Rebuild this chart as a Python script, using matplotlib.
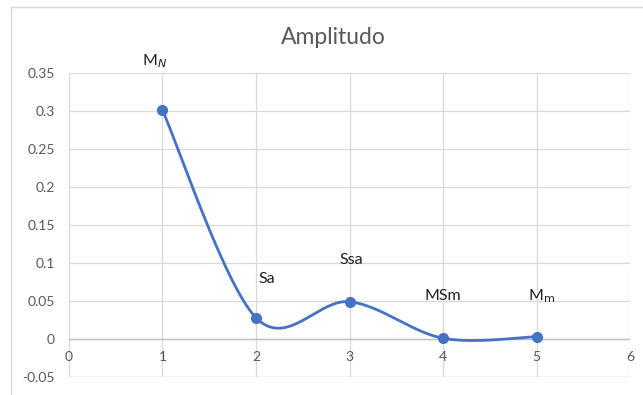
import numpy as np
import matplotlib.pyplot as plt
from matplotlib.lines import Line2D

# Дані
x_vals = [1, 2, 3, 4, 5]
amplitudes = [0.301, 0.028, 0.049, 0.001, 0.003]
labels = ['M$_N$', 'Sa', 'Ssa', 'MSm', 'M$_\\mathrm{m}$']
label_pos = [(0.92, 0.366), (2.12, 0.079), (3.02, 0.104), (4.0, 0.056), (5.05, 0.056)]
x_ticks = [0, 1, 2, 3, 4, 5, 6]
y_ticks = [-0.05, 0, 0.05, 0.1, 0.15, 0.2, 0.25, 0.3, 0.35]


# Згладжування як в Excel (Catmull-Rom через криві Безьє)
def smooth_curve(x, y, steps=40):
    x = np.asarray(x, float)
    y = np.asarray(y, float)
    px = np.concatenate([[x[0]], x, [x[-1]]])
    py = np.concatenate([[y[0]], y, [y[-1]]])
    xs, ys = [], []
    t = np.linspace(0, 1, steps)
    for i in range(1, len(px) - 2):
        p0 = np.array([px[i], py[i]])
        p3 = np.array([px[i + 1], py[i + 1]])
        p1 = p0 + (np.array([px[i + 1], py[i + 1]]) - np.array([px[i - 1], py[i - 1]])) / 6
        p2 = p3 - (np.array([px[i + 2], py[i + 2]]) - np.array([px[i], py[i]])) / 6
        pts = ((1 - t) ** 3)[:, None] * p0 + (3 * (1 - t) ** 2 * t)[:, None] * p1 \
            + (3 * (1 - t) * t ** 2)[:, None] * p2 + (t ** 3)[:, None] * p3
        xs.extend(pts[:, 0])
        ys.extend(pts[:, 1])
    return xs, ys


plt.rcParams['font.family'] = ['Lato', 'DejaVu Sans']
gray = '#595959'

fig = plt.figure(figsize=(6.43, 3.95), dpi=100)
ax = fig.add_axes([0.1073, 0.0456, 0.8725, 0.7696])

sx, sy = smooth_curve(x_vals, amplitudes)
ax.plot(sx, sy, color='#4472C4', lw=2.0, solid_capstyle='round', zorder=3)
ax.plot(x_vals, amplitudes, 'o', color='#4472C4', ms=7, zorder=4)

for (lx, ly), txt in zip(label_pos, labels):
    ax.text(lx, ly, txt, ha='center', va='center', fontsize=11.5, color='#202020', clip_on=False)

ax.set_xlim(0, 6)
ax.set_ylim(-0.05, 0.35)
ax.set_xticks(x_ticks)
ax.set_yticks(y_ticks)
ax.set_yticklabels(['%g' % v for v in y_ticks], color=gray, fontsize=10)
ax.set_xticklabels([])
ax.tick_params(length=0, pad=10)

for xt in x_ticks:
    ax.annotate(str(xt), (xt, 0), xytext=(0, -13), textcoords='offset points',
                ha='center', va='center', fontsize=10, color=gray)

ax.grid(True, color='#D9D9D9', lw=0.9)
ax.set_axisbelow(True)
for s in ax.spines.values():
    s.set_visible(False)
ax.axhline(0, color='#BFBFBF', lw=1.0, zorder=1)
ax.axhline(-0.05, color='#D9D9D9', lw=0.9, zorder=1)

fig.text(0.518, 0.905, 'Amplitudo', ha='center', va='center', fontsize=16.5, color=gray)

# рамка області діаграми
fig.add_artist(Line2D([11 / 643, 1], [1 - 7 / 395, 1 - 7 / 395], color='#D9D9D9', lw=1))
fig.add_artist(Line2D([11 / 643, 11 / 643], [0, 1 - 7 / 395], color='#D9D9D9', lw=1))

fig.savefig('out.png', dpi=100)
